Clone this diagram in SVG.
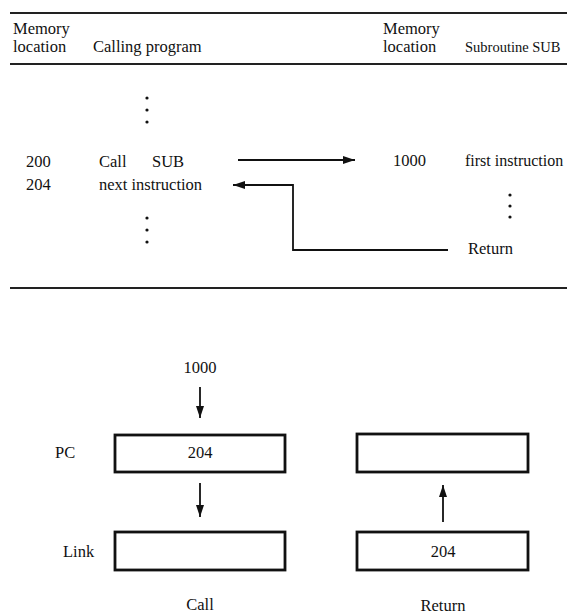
<svg xmlns="http://www.w3.org/2000/svg" width="567" height="615" viewBox="0 0 567 615">
<defs>
<marker id="ah" viewBox="0 0 12 8" refX="12" refY="4" markerWidth="12" markerHeight="8" markerUnits="userSpaceOnUse" orient="auto">
<path d="M0,0 L12,4 L0,8 Z" fill="#111"/>
</marker>
</defs>
<style>
text{font-family:"Liberation Serif","Times New Roman",serif;font-size:16.5px;fill:#111}
.mid{text-anchor:middle}
.rule{stroke:#222;stroke-width:2;fill:none}
.conn{stroke:#111;stroke-width:1.8;fill:none}
.box{stroke:#111;stroke-width:2.8;fill:#fff}
.dot{fill:#111}
</style>
<rect width="567" height="615" fill="#fff"/>
<g id="table">
<line class="rule" x1="10" y1="13" x2="567" y2="13"/>
<line class="rule" x1="10" y1="64" x2="567" y2="64"/>
<line class="rule" x1="10" y1="288" x2="567" y2="288"/>
<text x="13" y="34">Memory</text>
<text x="13" y="52">location</text>
<text x="93" y="52">Calling program</text>
<text x="383" y="34">Memory</text>
<text x="383" y="52">location</text>
<text x="465" y="52" style="font-size:14.5px">Subroutine SUB</text>
</g>
<g id="calling">
<circle class="dot" cx="147" cy="98" r="1.6"/>
<circle class="dot" cx="147" cy="110" r="1.6"/>
<circle class="dot" cx="147" cy="122" r="1.6"/>
<text x="26" y="167">200</text>
<text x="99" y="167">Call</text>
<text x="152" y="167">SUB</text>
<text x="26" y="190">204</text>
<text x="99" y="190">next instruction</text>
<circle class="dot" cx="147" cy="218" r="1.6"/>
<circle class="dot" cx="147" cy="230" r="1.6"/>
<circle class="dot" cx="147" cy="242" r="1.6"/>
</g>
<g id="subroutine">
<text x="393" y="166">1000</text>
<text x="465" y="166" style="font-size:16px">first instruction</text>
<circle class="dot" cx="510" cy="195" r="1.6"/>
<circle class="dot" cx="510" cy="206" r="1.6"/>
<circle class="dot" cx="510" cy="217" r="1.6"/>
<text x="468" y="254">Return</text>
</g>
<g id="pc-call">
<text x="55" y="458">PC</text>
<rect class="box" x="115" y="435" width="170" height="37"/>
<text class="mid" x="200" y="458">204</text>
</g>
<g id="link-call">
<text x="63" y="557">Link</text>
<rect class="box" x="115" y="532" width="170" height="38"/>
</g>
<g id="pc-return">
<rect class="box" x="357" y="434" width="171" height="38"/>
</g>
<g id="link-return">
<rect class="box" x="357" y="532" width="171" height="38"/>
<text class="mid" x="443" y="557">204</text>
</g>
<g id="labels">
<text class="mid" x="200" y="373">1000</text>
<text class="mid" x="200" y="610">Call</text>
<text class="mid" x="443" y="611">Return</text>
</g>
<g id="connectors">
<line class="conn" x1="238" y1="160" x2="355" y2="160" marker-end="url(#ah)"/>
<polyline class="conn" points="448,250 293,250 293,185 233,185" marker-end="url(#ah)"/>
<line class="conn" x1="200" y1="387" x2="200" y2="418" marker-end="url(#ah)"/>
<line class="conn" x1="200" y1="483" x2="200" y2="517" marker-end="url(#ah)"/>
<line class="conn" x1="443" y1="522" x2="443" y2="485" marker-end="url(#ah)"/>
</g>
</svg>
